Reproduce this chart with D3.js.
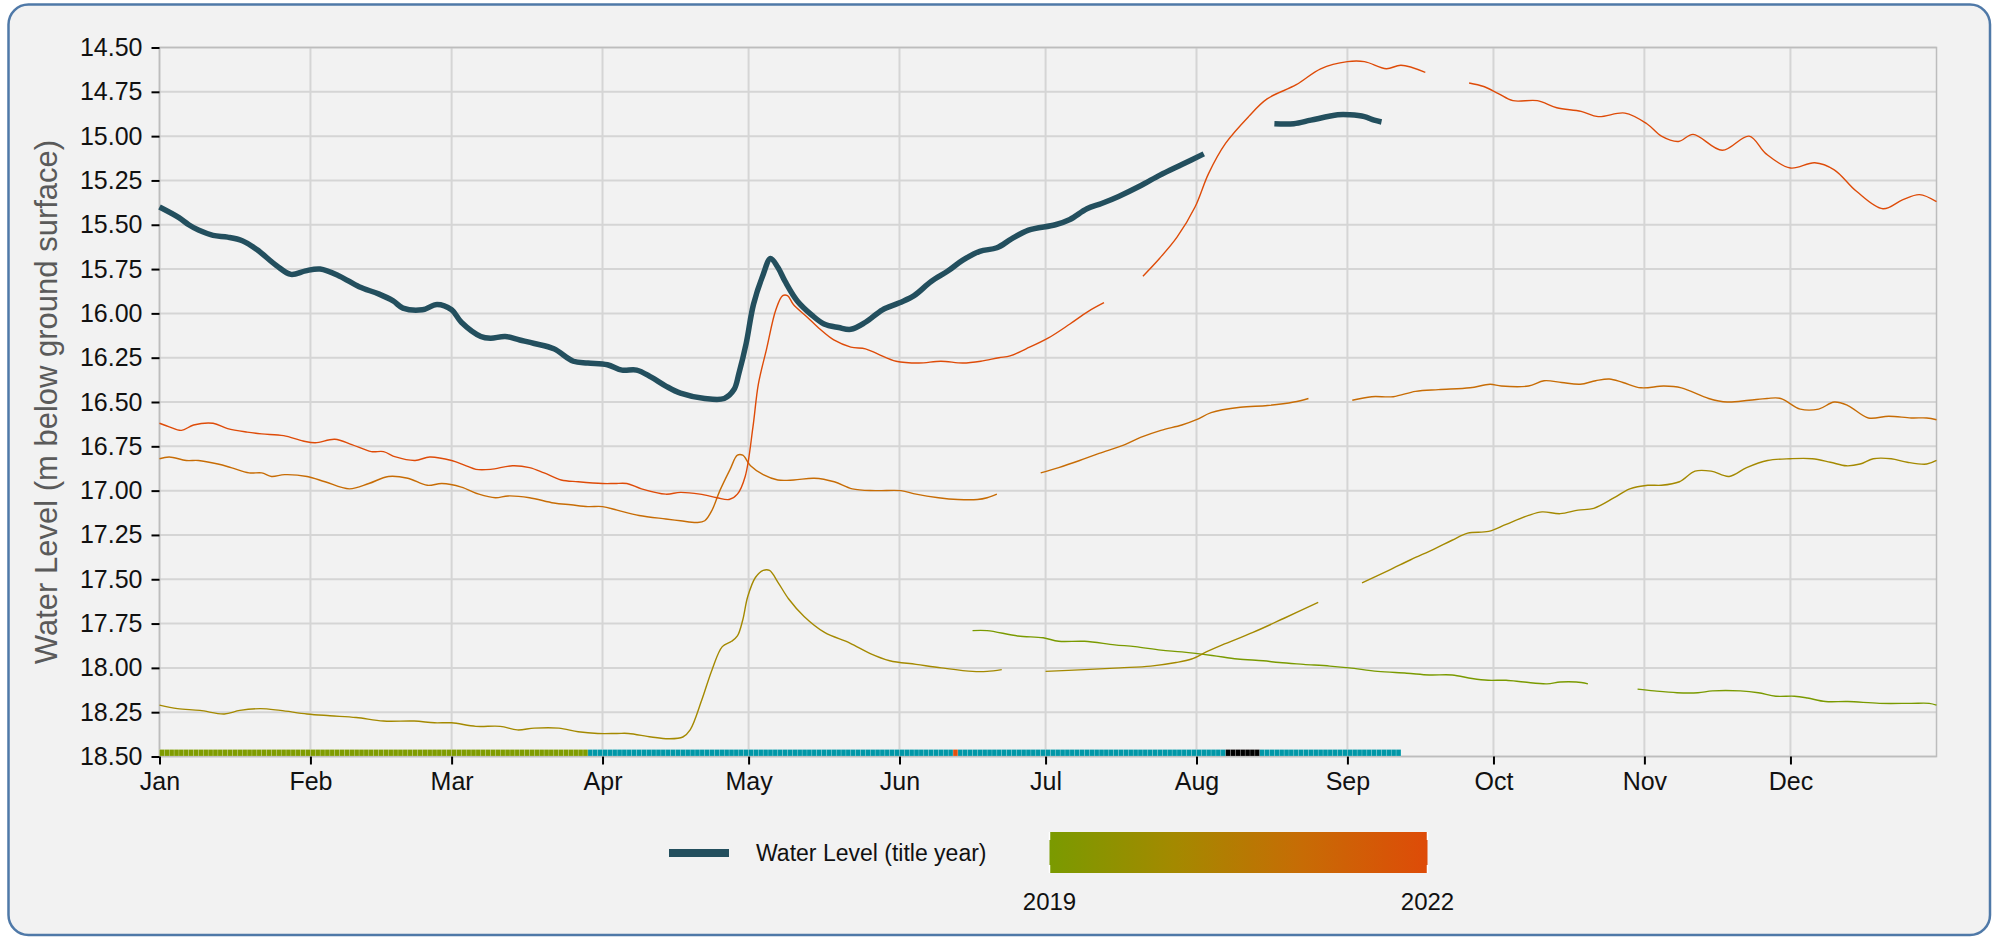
<!DOCTYPE html>
<html><head><meta charset="utf-8">
<script src="https://cdn.jsdelivr.net/npm/d3@7"></script>
<style>
html,body{margin:0;padding:0;background:#ffffff;}
svg{display:block;font-family:"Liberation Sans",Arial,Helvetica,sans-serif;}
</style></head><body>
<svg id="chart" width="1999" height="938"></svg>
<script>
// ---------------- DATA ----------------
const titleYear = 2024;
const monthLabels = ["Jan","Feb","Mar","Apr","May","Jun","Jul","Aug","Sep","Oct","Nov","Dec"];
const yTicks = [14.5,14.75,15,15.25,15.5,15.75,16,16.25,16.5,16.75,17,17.25,17.5,17.75,18,18.25,18.5];
const yTitle = "Water Level (m below ground surface)";
const legendLabel = "Water Level (title year)";
const pastYears = [2019, 2020, 2021, 2022];
const pastYearColors = ["#7a9a00", "#a48900", "#c76c05", "#de4b08"];

// [day of year (0 = Jan 1), water level]; null = gap in record
const levelTitleYear = [[0,15.40],[4,15.46],[6,15.50],[8,15.53],[11,15.56],[14,15.57],[17,15.59],[20,15.64],[24,15.73],[27,15.78],[30,15.76],[33,15.75],[37,15.79],[41,15.85],[45,15.89],[48,15.93],[50,15.97],[54,15.98],[57,15.95],[60,15.98],[62,16.05],[66,16.13],[68,16.14],[71,16.13],[74,16.15],[77,16.17],[81,16.20],[85,16.27],[88,16.28],[92,16.29],[95,16.32],[98,16.32],[101,16.36],[104,16.41],[107,16.45],[112,16.48],[116,16.48],[118,16.43],[119,16.34],[120.5,16.17],[122,15.95],[124,15.78],[125.5,15.69],[127,15.74],[128.5,15.82],[131,15.93],[134,16.01],[136.5,16.06],[139.5,16.08],[142,16.09],[145,16.05],[148.5,15.98],[152,15.94],[155,15.90],[158.5,15.82],[162,15.76],[165,15.70],[168.5,15.65],[172,15.63],[175,15.58],[178.5,15.53],[184,15.50],[187,15.47],[190.5,15.41],[193.5,15.38],[197,15.34],[201.5,15.28],[205.5,15.22],[210,15.16],[214.5,15.10],null,[229,14.93],[233,14.93],[236.5,14.91],[242,14.88],[244.5,14.88],[247.5,14.89],[249.5,14.91],[251,14.92]];

const level2022 = [[0,16.62],[2,16.64],[4.5,16.66],[7,16.63],[11,16.62],[14,16.65],[18,16.67],[21,16.68],[25.5,16.69],[29.5,16.72],[32,16.73],[36,16.71],[39.5,16.74],[43.5,16.78],[46,16.78],[48.5,16.81],[52.5,16.83],[55.5,16.81],[60,16.83],[63,16.86],[65,16.88],[68,16.88],[72.5,16.86],[76,16.87],[79,16.90],[82.5,16.94],[86,16.95],[91,16.96],[93.5,16.96],[96,16.96],[99,16.99],[104,17.02],[107,17.01],[111,17.02],[114.5,17.04],[117,17.05],[118.7,17.02],[120.3,16.92],[121.9,16.64],[123,16.40],[124.7,16.20],[126.6,15.98],[128,15.90],[129,15.90],[130.2,15.95],[133,16.02],[135.7,16.09],[138.5,16.15],[142,16.19],[145,16.20],[147.6,16.23],[151.3,16.27],[156,16.28],[160.5,16.27],[165,16.28],[168.7,16.27],[172.4,16.25],[174.7,16.24],[178,16.20],[182.5,16.14],[187,16.06],[190.7,15.99],[194,15.94],null,[202,15.79],[205.4,15.69],[209,15.57],[212.7,15.40],[215.5,15.21],[219,15.04],[223.7,14.89],[227.5,14.79],[233.5,14.71],[238.5,14.62],[244,14.58],[247.5,14.58],[252,14.62],[255,14.60],[260,14.64],null,[269,14.70],[272,14.72],[275,14.76],[278,14.80],[283,14.80],[287,14.84],[292,14.86],[295.5,14.89],[301,14.87],[305.5,14.93],[308.5,15.00],[312,15.03],[315,14.99],[321,15.08],[326.5,15.00],[330,15.10],[335,15.18],[340,15.15],[344,15.19],[348.5,15.31],[354,15.41],[358,15.36],[361.5,15.33],[365,15.37]];

const level2021 = [[0,16.82],[2,16.81],[5.5,16.83],[8,16.83],[12,16.85],[14.7,16.87],[18.4,16.90],[21,16.90],[23,16.92],[25.7,16.91],[30.3,16.92],[34,16.95],[39,16.99],[43,16.96],[47,16.92],[51,16.93],[55,16.97],[58,16.96],[62,16.98],[65.6,17.02],[69,17.04],[71.6,17.03],[76,17.04],[81,17.07],[84.5,17.08],[88,17.09],[91,17.09],[94,17.11],[98.5,17.14],[104,17.16],[107,17.17],[110.4,17.18],[112,17.17],[113.5,17.11],[115.1,17.00],[117.2,16.88],[118.7,16.80],[119.8,16.80],[121.4,16.86],[124,16.91],[127,16.94],[130.3,16.94],[134.5,16.93],[138.6,16.95],[142.3,16.99],[147,17.00],[152.3,17.00],[155.4,17.02],[160,17.04],[164,17.05],[168,17.05],[170,17.04],[172,17.02],null,[181,16.90],[184.7,16.87],[189,16.83],[193,16.79],[198.3,16.74],[201.5,16.70],[205.7,16.66],[210,16.63],[213,16.60],[216,16.56],[222,16.53],[227.6,16.52],[233,16.50],[236,16.48],null,[245,16.49],[249,16.47],[253.4,16.47],[258,16.44],[262.7,16.43],[269.2,16.42],[273.3,16.40],[275.6,16.41],[281.2,16.41],[284.4,16.38],[288,16.39],[291.8,16.40],[295,16.38],[297.8,16.37],[300.6,16.39],[304.3,16.42],[309,16.41],[312.6,16.42],[318.2,16.48],[322,16.50],[326.5,16.49],[330.2,16.48],[333,16.48],[337,16.54],[340.8,16.54],[344,16.50],[346.8,16.52],[351,16.59],[355.2,16.58],[359.8,16.59],[363,16.59],[365,16.60]];

const level2020 = [[0,18.21],[3.7,18.23],[8.3,18.24],[13.3,18.26],[16.5,18.24],[20.7,18.23],[24.8,18.24],[30.3,18.26],[35,18.27],[40.4,18.28],[46,18.30],[52.3,18.30],[56.5,18.31],[60,18.31],[65,18.33],[70,18.33],[73.5,18.35],[77,18.34],[82,18.34],[86,18.36],[90,18.37],[94,18.37],[96.3,18.37],[101,18.39],[104.6,18.40],[107.5,18.39],[109,18.35],[111.4,18.18],[113.5,18.01],[115.6,17.88],[117.5,17.85],[118.7,17.82],[119.8,17.73],[120.8,17.60],[122.4,17.49],[124,17.45],[125.3,17.45],[127.1,17.52],[129.2,17.61],[132.4,17.71],[136.6,17.80],[141.8,17.86],[146,17.92],[150,17.96],[155.4,17.98],[160.6,18.00],[167,18.02],[170,18.02],[173,18.01],null,[182,18.02],[190,18.01],[197.3,18.00],[203.6,17.99],[208.8,17.97],[212,17.95],[215,17.91],[218.3,17.87],[224.6,17.80],[231,17.72],[238,17.63],null,[247,17.52],[252.5,17.45],[257,17.39],[261.8,17.33],[265.5,17.28],[268.7,17.24],[273,17.23],[276.6,17.19],[281.2,17.14],[284,17.12],[287.7,17.13],[291.4,17.11],[294.6,17.10],[298.8,17.04],[302,16.99],[305.7,16.97],[308.5,16.97],[312.2,16.95],[315.4,16.89],[318.7,16.89],[322.4,16.92],[326,16.87],[330.3,16.83],[335,16.82],[339.5,16.82],[343.2,16.84],[346.5,16.86],[349.3,16.85],[352,16.82],[355.7,16.82],[359,16.84],[363,16.85],[365,16.83]];

const level2019 = [[167,17.79],[170,17.79],[176.3,17.82],[181.5,17.83],[184.7,17.85],[190,17.85],[196.2,17.87],[200.4,17.88],[205.7,17.90],[210,17.91],[216.2,17.93],[221.4,17.95],[226.7,17.96],[230,17.97],[235,17.98],[240.4,17.99],[244.4,18.00],[250.2,18.02],[256.2,18.03],[260.8,18.04],[265.5,18.04],[269.6,18.06],[272.9,18.07],[276.6,18.07],[280.3,18.08],[285,18.09],[287.7,18.08],[291,18.08],[293.4,18.09],null,[303.6,18.12],[307,18.13],[311.7,18.14],[316,18.14],[319,18.13],[324.7,18.13],[328.4,18.14],[332,18.16],[335.8,18.16],[338.5,18.17],[342.2,18.19],[346.8,18.19],[353.3,18.20],[359.8,18.20],[363.5,18.20],[365,18.21]];

const pastLevels = [level2019, level2020, level2021, level2022];

// daily data-grade strip for the title year: [first day, last day, grade]
const gradeRuns = [[0,87,"A"],[88,162,"B"],[163,163,"C"],[164,218,"B"],[219,225,"D"],[226,254,"B"]];
const gradeColors = {A:"#7f9c00", B:"#0097a7", C:"#e4500e", D:"#000000"};

// ---------------- CHART ----------------
const svg = d3.select("#chart");
const W = 1999, H = 938;
const plot = {left:159.5, right:1936.5, top:47.5, bottom:756.5};
const dayMs = 86400000;
const t0 = Date.UTC(titleYear,0,1);
const toDate = d => new Date(t0 + d*dayMs);

const x = d3.scaleUtc().domain([new Date(t0), new Date(Date.UTC(titleYear,11,31))]).range([plot.left, plot.right]);
const y = d3.scaleLinear().domain([14.5, 18.5]).range([plot.top, plot.bottom]);

// frame
svg.append("rect").attr("x",8.5).attr("y",4.5).attr("width",1981.5).attr("height",930.5)
  .attr("rx",20).attr("fill","#f2f2f2").attr("stroke","#4f79a8").attr("stroke-width",2.5);

// gridlines
const monthDates = d3.utcMonth.range(new Date(t0), new Date(Date.UTC(titleYear+1,0,1)));
const grid = svg.append("g");
grid.selectAll("line.h").data(yTicks).join("line")
  .attr("x1",plot.left).attr("x2",plot.right).attr("y1",d=>y(d)).attr("y2",d=>y(d))
  .attr("stroke","#d5d5d5").attr("stroke-width",2);
grid.selectAll("line.v").data(monthDates).join("line")
  .attr("x1",d=>x(d)).attr("x2",d=>x(d)).attr("y1",plot.top).attr("y2",plot.bottom)
  .attr("stroke","#d5d5d5").attr("stroke-width",2);

// plot border
svg.append("rect").attr("x",plot.left).attr("y",plot.top).attr("width",plot.right-plot.left).attr("height",plot.bottom-plot.top)
  .attr("fill","none").attr("stroke","#bdbdbd").attr("stroke-width",1.5);

// y axis
const yAxis = d3.axisLeft(y).tickValues(yTicks).tickFormat(d3.format(".2f")).tickSize(8).tickPadding(9);
const gy = svg.append("g").attr("transform",`translate(${plot.left},0)`).call(yAxis);
gy.select(".domain").remove();
gy.selectAll(".tick line").attr("stroke","#000").attr("stroke-width",2);
gy.selectAll(".tick text").attr("font-size",25).attr("fill","#111").attr("font-family","Liberation Sans, Arial, sans-serif");

// x axis
const xAxis = d3.axisBottom(x).tickValues(monthDates).tickFormat((d,i)=>monthLabels[i]).tickSize(8).tickPadding(8);
const gx = svg.append("g").attr("transform",`translate(0,${plot.bottom})`).call(xAxis);
gx.select(".domain").remove();
gx.selectAll(".tick line").attr("stroke","#000").attr("stroke-width",2);
gx.selectAll(".tick text").attr("font-size",25).attr("fill","#111").attr("font-family","Liberation Sans, Arial, sans-serif");

// y title
svg.append("text").attr("transform",`translate(46,${(plot.top+plot.bottom)/2}) rotate(-90)`)
  .attr("text-anchor","middle").attr("dominant-baseline","central")
  .attr("font-size",31).attr("fill","#5a5a5a").text(yTitle);

// lines
const line = d3.line().defined(d=>d!==null).x(d=>x(toDate(d[0]))).y(d=>y(d[1])).curve(d3.curveCatmullRom.alpha(0.5));
const lines = svg.append("g").attr("fill","none");
pastLevels.forEach((s,i)=>{
  lines.append("path").attr("d",line(s)).attr("stroke",pastYearColors[i]).attr("stroke-width",1.4);
});
lines.append("path").attr("d",line(levelTitleYear)).attr("stroke","#234f5e").attr("stroke-width",5.5)
  .attr("stroke-linejoin","round");

// grade strip
const cells = [];
gradeRuns.forEach(([a,b,g])=>{ for(let d=a; d<=b; d++) cells.push({d,g}); });
svg.append("g").selectAll("rect").data(cells).join("rect")
  .attr("x",c=>x(toDate(c.d))).attr("width",c=>x(toDate(c.d+1))-x(toDate(c.d)))
  .attr("y",y(18.5)-7).attr("height",6.5)
  .attr("fill",c=>gradeColors[c.g]).attr("stroke","rgba(255,255,255,0.35)").attr("stroke-width",0.5);

// legend
const lg = svg.append("g");
lg.append("line").attr("x1",669).attr("x2",729).attr("y1",853).attr("y2",853).attr("stroke","#234f5e").attr("stroke-width",8);
lg.append("text").attr("x",756).attr("y",853).attr("dominant-baseline","central").attr("font-size",23).attr("fill","#111").text(legendLabel);

const defs = svg.append("defs");
const grad = defs.append("linearGradient").attr("id","yrgrad").attr("x1","0%").attr("x2","100%");
pastYearColors.forEach((c,i)=>grad.append("stop").attr("offset",(i/(pastYearColors.length-1)*100)+"%").attr("stop-color",c));
const cb = d3.scaleLinear().domain([pastYears[0], pastYears[pastYears.length-1]]).range([1049.5,1427.5]);
lg.append("rect").attr("x",cb.range()[0]).attr("y",832).attr("width",cb.range()[1]-cb.range()[0]).attr("height",41).attr("fill","url(#yrgrad)");
[pastYears[0], pastYears[pastYears.length-1]].forEach(yr=>{
  lg.append("line").attr("x1",cb(yr)).attr("x2",cb(yr)).attr("y1",832).attr("y2",840).attr("stroke","#fff").attr("stroke-width",1.5);
  lg.append("line").attr("x1",cb(yr)).attr("x2",cb(yr)).attr("y1",865).attr("y2",873).attr("stroke","#fff").attr("stroke-width",1.5);
  lg.append("text").attr("x",cb(yr)).attr("y",910).attr("text-anchor","middle").attr("font-size",24).attr("fill","#111").text(yr);
});
</script>
</body></html>
